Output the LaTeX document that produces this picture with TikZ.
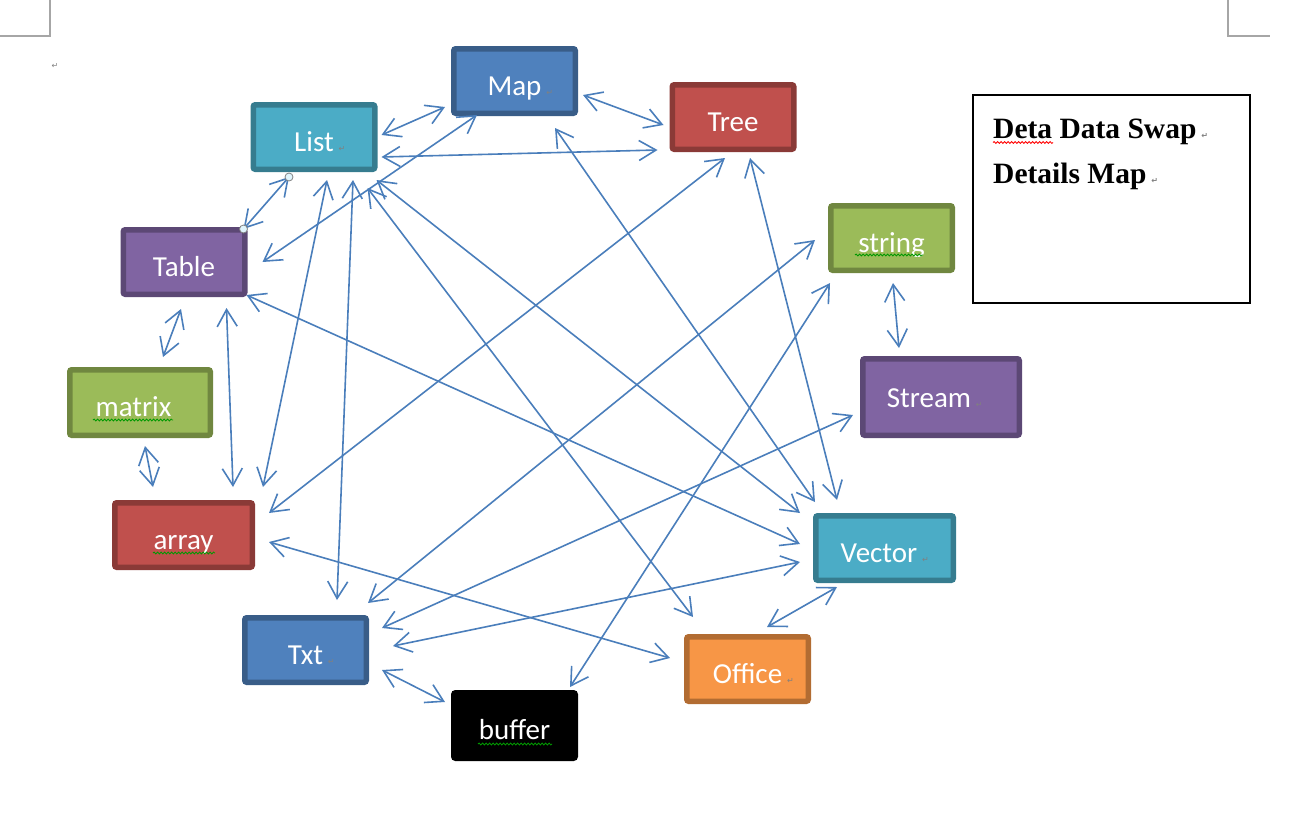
\documentclass[tikz,border=0pt]{standalone}
\usepackage{fontspec}
\usepackage{xcolor}
\usepackage{tikz}
\usetikzlibrary{arrows.meta,calc,decorations.pathmorphing}
\newfontfamily\boxfont{Carlito}
\newfontfamily\notefont{Liberation Serif}
\newfontfamily\markfont{DejaVu Sans}
\definecolor{accblue}{HTML}{4F81BD}
\definecolor{accred}{HTML}{C0504D}
\definecolor{accgreen}{HTML}{9BBB59}
\definecolor{accviolet}{HTML}{8064A2}
\definecolor{accaqua}{HTML}{4BACC6}
\definecolor{accorange}{HTML}{F79646}
\definecolor{linkblue}{HTML}{4A7EBB}
\def\retmark{\rlap{\,\markfont\fontsize{8}{8}\selectfont\color{gray}↵}}

\begin{document}
\begin{tikzpicture}[x=1pt,y=-1pt]
    \tikzstyle{box}=[rectangle,rounded corners=2pt,line width=5.5pt,
      minimum width=121.5pt,minimum height=64.5pt,text=white,
      font=\boxfont\fontsize{29}{34}\selectfont,text height=29pt,text depth=1pt]
    \tikzstyle{blue box}=[box,fill=accblue,draw=accblue!72!black]
    \tikzstyle{red box}=[box,fill=accred,draw=accred!72!black]
    \tikzstyle{green box}=[box,fill=accgreen,draw=accgreen!72!black]
    \tikzstyle{violet box}=[box,fill=accviolet,draw=accviolet!72!black]
    \tikzstyle{aqua box}=[box,fill=accaqua,draw=accaqua!72!black]
    \tikzstyle{orange box}=[box,fill=accorange,draw=accorange!72!black]
    \tikzstyle{link}=[draw=linkblue,line width=1.6pt,
      >={Straight Barb[length=17pt,width=20pt]},<->]
    \tikzstyle{handle}=[draw=gray,fill=cyan!12,line width=0.8pt]
    \tikzstyle{squiggle}=[line width=0.8pt,decorate,
      decoration={snake,amplitude=1pt,segment length=3.5pt}]
    \tikzstyle{notetext}=[inner sep=0pt,font=\notefont\bfseries\fontsize{29.5}{35}\selectfont]
    \tikzstyle{cropmark}=[draw=gray!70,line width=1.5pt]
    \useasboundingbox (0,0) rectangle (1300,822);
    \draw[cropmark] (50,0) -- (50,36) -- (0,36);
    \draw[cropmark] (1228,0) -- (1228,36) -- (1270,36);
    \node[inner sep=0pt,text=gray,font=\markfont\fontsize{8}{8}\selectfont] (pagemark) at (55,66) {↵};
    \node[blue box] (map) at (514.5,81) {Map\retmark};
    \node[red box] (tree) at (733,117) {Tree};
    \node[aqua box] (list) at (314,137) {List\retmark};
    \node[violet box] (table) at (184,262) {Table};
    \node[green box] (string) at (891.5,238) {string};
    \node[violet box,minimum width=156.5pt,minimum height=76.5pt,text depth=8pt] (stream)
      at (941,397) {Stream\retmark\kern24pt};
    \node[green box,minimum width=140.5pt,minimum height=65.5pt] (matrix) at (140,402.5) {matrix\kern13pt};
    \node[red box,minimum width=137.5pt] (array) at (183.5,535) {array};
    \node[aqua box,minimum width=137.5pt] (vector) at (884.5,548) {Vector\retmark\kern11pt};
    \node[blue box] (txt) at (305.5,650) {Txt\retmark};
    \node[orange box] (office) at (747.5,669) {Office\retmark};
    \node[box,fill=black,draw=black,minimum height=65.5pt] (buffer) at (514.5,725.5) {buffer};
    \node[draw,line width=2pt,minimum width=277pt,minimum height=208pt,anchor=north west]
      (legend) at (972,94) {};
    \node[notetext,anchor=base west] (title) at ($(legend.north west)+(21,44)$) {Deta Data Swap\retmark};
    \node[notetext,anchor=base west] (subtitle) at ($(title.base west)+(0,45)$) {Details Map\retmark};
    \draw[squiggle,draw=red] (993,142.5) -- (1053,142.5);
    \draw[squiggle,draw=green!60!black] (855,255) -- (923,255);
    \draw[squiggle,draw=green!60!black] (93,420) -- (173,420);
    \draw[squiggle,draw=green!60!black] (153,553) -- (215,553);
    \draw[squiggle,draw=green!60!black] (478,744) -- (552,744);
    \coordinate (lt1) at ($(list.south)+(-25,5)$);
    \coordinate (lt2) at ($(table.north east)+(-4,2)$);
    \draw[link] ($(list.east)+(4,-2)$) -- ($(map.south west)+(-6,-9)$);
    \draw[link] ($(list.south east)+(4,-15)$) -- ($(tree.south west)+(-12,-2)$);
    \draw[link] ($(map.east)+(5,14)$) -- ($(tree.west)+(-6,8)$);
    \draw[link] ($(map.south west)+(26,-1)$) -- ($(table.east)+(15,0)$);
    \draw[link] (lt1) -- (lt2);
    \draw[link] ($(list.south east)+(-1,8)$) -- ($(vector.north west)+(-13,0)$);
    \draw[link] ($(list.south east)+(-10,16)$) -- ($(office.north west)+(9,-17)$);
    \draw[link] ($(list.south)+(13,8)$) -- ($(array.north east)+(8,-13)$);
    \draw[link] ($(list.south)+(39,8)$) -- ($(txt.north)+(31.5,-15)$);
    \draw[link] ($(map.south east)+(-23,12)$) -- ($(vector.north west)+(2,-11)$);
    \draw[link] ($(tree.south)+(17,6)$) -- ($(vector.north west)+(24,-13)$);
    \draw[link] ($(tree.south)+(-8,6)$) -- ($(array.north east)+(14,13)$);
    \draw[link] ($(table.south)+(-3,12)$) -- ($(matrix.north)+(23,-10)$);
    \draw[link] ($(matrix.south)+(5,8)$) -- ($(array.north)+(-30.5,-13)$);
    \draw[link] ($(table.south east)+(-21,11)$) -- ($(array.north east)+(-22,-13)$);
    \draw[link] ($(table.south east)+(-1,-2)$) -- ($(vector.west)+(-13,-4)$);
    \draw[link] ($(array.east)+(14,7)$) -- ($(office.west)+(-14,-11)$);
    \draw[link] ($(string.west)+(-13,2)$) -- ($(txt.north east)+(-1,-12)$);
    \draw[link] ($(stream.west)+(-7,18)$) -- ($(txt.east)+(13,-22)$);
    \draw[link] ($(vector.west)+(-13,14)$) -- ($(txt.east)+(24,-4)$);
    \draw[link] ($(txt.south east)+(13,-15)$) -- ($(buffer.north west)+(-6,12)$);
    \draw[link] ($(buffer.north east)+(-8,-3)$) -- ($(string.south west)+(2,10)$);
    \draw[link] ($(vector.south west)+(24,4)$) -- ($(office.north)+(19.5,-7)$);
    \draw[link] ($(string.south)+(1.5,10)$) -- ($(stream.north)+(-42,-8)$);
    \draw[handle] (lt1) circle (4);
    \draw[handle] (lt2) circle (4);
\end{tikzpicture}
\end{document}
